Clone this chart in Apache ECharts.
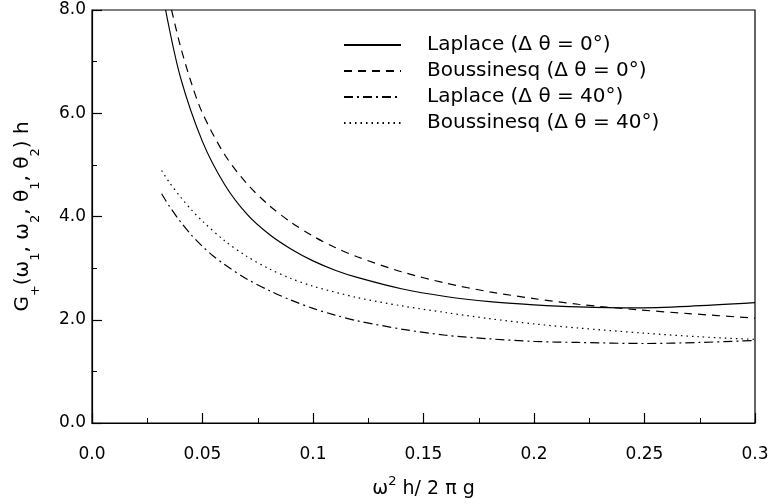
<!DOCTYPE html>
<html>
<head>
<meta charset="utf-8">
<script src="https://cdn.jsdelivr.net/npm/echarts@6/dist/echarts.min.js"></script>
<style>
  html, body { margin: 0; padding: 0; background: #fff; }
  #chart { width: 773px; height: 504px; }
</style>
</head>
<body>
<div id="chart"></div>
<script>
// values
const lapX0 = [0.0333, 0.04, 0.05, 0.06, 0.07, 0.08, 0.09, 0.1, 0.11, 0.12, 0.14, 0.16, 0.18, 0.2, 0.22, 0.245, 0.27, 0.3];
const lapY0 = [8.0, 6.7, 5.45, 4.62, 4.05, 3.66, 3.37, 3.14, 2.96, 2.82, 2.6, 2.45, 2.35, 2.29, 2.25, 2.23, 2.26, 2.33];

const bouX0 = [0.036, 0.04, 0.045, 0.05, 0.06, 0.07, 0.08, 0.09, 0.1, 0.11, 0.12, 0.14, 0.16, 0.18, 0.2, 0.22, 0.245, 0.27, 0.3];
const bouY0 = [8.0, 7.3, 6.58, 6.0, 5.2, 4.64, 4.22, 3.89, 3.62, 3.4, 3.22, 2.93, 2.71, 2.54, 2.41, 2.3, 2.2, 2.12, 2.03];

const lapX40 = [0.0315, 0.035, 0.04, 0.045, 0.05, 0.055, 0.06, 0.07, 0.08, 0.09, 0.1, 0.11, 0.12, 0.14, 0.16, 0.18, 0.2, 0.22, 0.25, 0.275, 0.3];
const lapY40 = [4.44, 4.2, 3.9, 3.64, 3.42, 3.23, 3.07, 2.79, 2.57, 2.38, 2.22, 2.09, 1.98, 1.82, 1.7, 1.63, 1.58, 1.56, 1.54, 1.56, 1.6];

const bouX40 = [0.0315, 0.035, 0.04, 0.045, 0.05, 0.06, 0.07, 0.08, 0.09, 0.1, 0.12, 0.14, 0.16, 0.18, 0.2, 0.22, 0.25, 0.275, 0.3];
const bouY40 = [4.89, 4.66, 4.38, 4.13, 3.91, 3.53, 3.23, 2.99, 2.8, 2.65, 2.43, 2.27, 2.14, 2.02, 1.92, 1.84, 1.74, 1.67, 1.62];

const names = [
  'Laplace (Δ θ = 0°)',
  'Boussinesq (Δ θ = 0°)',
  'Laplace (Δ θ = 40°)',
  'Boussinesq (Δ θ = 40°)'
];

const font = 'DejaVu Sans';

function pairs(xs, ys) {
  return xs.map((x, i) => [x, ys[i]]);
}

function curve(name, xs, ys, dash) {
  return {
    name: name,
    type: 'line',
    data: pairs(xs, ys),
    symbol: 'none',
    smooth: 0.3,
    color: '#000',
    lineStyle: { color: '#000', width: 1.2, type: dash }
  };
}

const chart = echarts.init(document.getElementById('chart'));

const axisCommon = {
  axisLine: { show: true, lineStyle: { color: '#000', width: 1.2 } },
  axisTick: { show: true, inside: true, length: 10, lineStyle: { color: '#000', width: 1.2 } },
  minorTick: { show: true, splitNumber: 2, length: 5, lineStyle: { color: '#000', width: 1 } },
  splitLine: { show: false },
  minorSplitLine: { show: false }
};

chart.setOption({
  animation: false,
  backgroundColor: '#fff',
  grid: {
    left: 92, right: 18, top: 10, bottom: 78,
    show: true, borderColor: '#000', borderWidth: 1.2
  },
  legend: {
    orient: 'vertical',
    left: 343,
    top: 35,
    padding: 0,
    itemWidth: 57,
    itemHeight: 12,
    itemGap: 6,
    data: names,
    itemStyle: { opacity: 0 },
    textStyle: { fontFamily: font, fontSize: 20, color: '#000', lineHeight: 20, padding: [0, 0, 0, 21] }
  },
  xAxis: Object.assign({
    type: 'value',
    min: 0,
    max: 0.3,
    interval: 0.05,
    name: '{m|ω}{sup|2}{m| h/ 2 π g}',
    nameLocation: 'middle',
    nameGap: 52,
    nameTextStyle: {
      fontFamily: font, color: '#000',
      rich: {
        m: { fontFamily: font, fontSize: 19, lineHeight: 24, verticalAlign: 'bottom', color: '#000' },
        sup: { fontFamily: font, fontSize: 13, lineHeight: 13, verticalAlign: 'top', color: '#000' }
      }
    },
    axisLabel: {
      margin: 23,
      fontFamily: font, fontSize: 17, color: '#000',
      formatter: v => (v === 0 ? '0.0' : String(+v.toFixed(2)))
    }
  }, axisCommon),
  yAxis: Object.assign({
    type: 'value',
    min: 0,
    max: 8,
    interval: 2,
    name: '{m|G}{s|+}{m|(ω}{s|1}{m|, ω}{s|2}{m|, θ}{s|1}{m|, θ}{s|2}{m|) h}',
    nameLocation: 'middle',
    nameGap: 57,
    nameTextStyle: {
      fontFamily: font, color: '#000',
      rich: {
        m: { fontFamily: font, fontSize: 20, lineHeight: 22, verticalAlign: 'top', color: '#000' },
        s: { fontFamily: font, fontSize: 13, lineHeight: 14, padding: [16, 0, 0, 0], verticalAlign: 'top', color: '#000' }
      }
    },
    axisLabel: {
      margin: 6,
      fontFamily: font, fontSize: 17, color: '#000',
      formatter: v => v.toFixed(1)
    }
  }, axisCommon),
  series: [
    curve(names[0], lapX0, lapY0, 'solid'),
    curve(names[1], bouX0, bouY0, [8, 6]),
    curve(names[2], lapX40, lapY40, [9, 4, 2, 4]),
    curve(names[3], bouX40, bouY40, [1.5, 4])
  ]
});
</script>
</body>
</html>
